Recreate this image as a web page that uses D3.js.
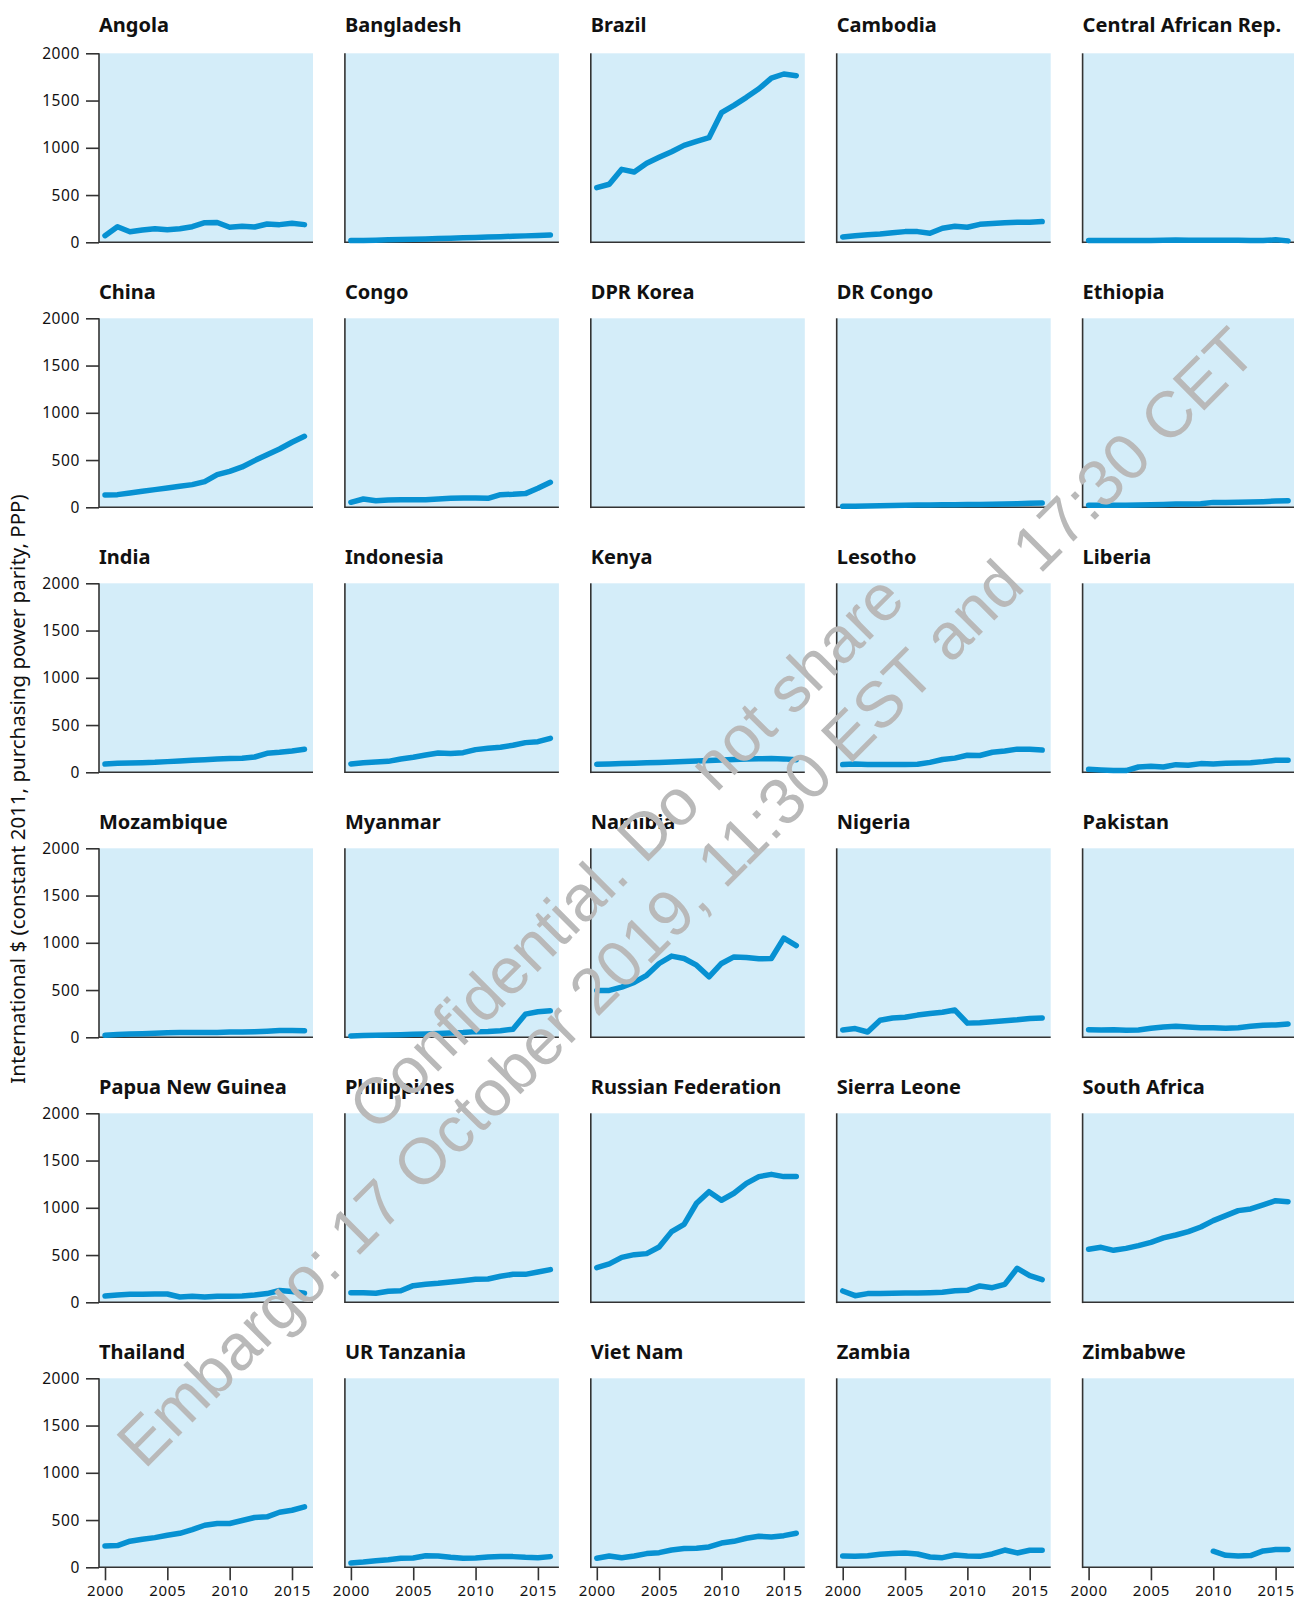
<!DOCTYPE html>
<html><head><meta charset="utf-8">
<script src="https://cdn.jsdelivr.net/npm/d3@7"></script>
<style>body{margin:0;background:#fff}svg{display:block}</style>
</head><body>
<svg id="chart" width="1294" height="1602"></svg>
<script>
const years = [2000,2001,2002,2003,2004,2005,2006,2007,2008,2009,2010,2011,2012,2013,2014,2015,2016];
const countries = ["Angola","Bangladesh","Brazil","Cambodia","Central African Rep.",
  "China","Congo","DPR Korea","DR Congo","Ethiopia",
  "India","Indonesia","Kenya","Lesotho","Liberia",
  "Mozambique","Myanmar","Namibia","Nigeria","Pakistan",
  "Papua New Guinea","Philippines","Russian Federation","Sierra Leone","South Africa",
  "Thailand","UR Tanzania","Viet Nam","Zambia","Zimbabwe"];

const angola     = [70,165,112,130,144,133,144,165,207,210,159,169,162,194,187,201,187];
const bangladesh = [18,20,23,26,29,32,36,40,44,48,52,56,60,64,68,73,78];
const brazil     = [578,614,772,744,836,899,959,1026,1069,1107,1371,1449,1534,1625,1738,1781,1763];
const cambodia   = [56,70,81,88,102,113,113,95,148,169,159,190,198,208,212,212,219];
const centralAfricanRep = [20,20,18,18,20,20,22,24,22,22,22,22,22,18,18,26,15];
const china      = [130,134,152,169,187,205,222,240,272,346,381,427,494,557,617,688,751];
const congo      = [53,88,70,78,81,81,81,88,95,99,99,95,134,138,145,201,265];
const dprKorea   = [null,null,null,null,null,null,null,null,null,null,null,null,null,null,null,null,null];
const drCongo    = [10,12,14,17,20,22,24,25,27,28,29,30,32,34,38,42,46];
const ethiopia   = [22,22,22,22,24,26,30,34,36,38,52,50,54,56,60,66,70];
const india      = [88,95,99,102,106,113,120,127,134,141,145,148,162,201,212,226,243];
const indonesia  = [88,102,109,116,141,159,183,205,198,208,240,254,265,286,314,324,360];
const kenya      = [85,88,92,96,100,105,110,115,120,125,130,135,140,143,145,142,132];
const lesotho    = [82,88,82,82,82,82,85,105,135,150,180,178,212,226,245,243,236];
const liberia    = [32,25,18,18,56,63,56,81,74,92,88,95,99,102,113,127,127];
const mozambique = [22,30,35,38,42,48,52,52,50,50,55,55,60,65,72,72,70];
const myanmar    = [15,18,22,25,28,32,36,40,45,50,60,62,70,85,245,270,280];
const namibia    = [496,496,531,581,656,781,859,834,763,640,781,851,845,831,834,1050,970];
const nigeria    = [78,92,56,180,205,212,235,252,265,288,150,155,165,175,185,200,205];
const pakistan   = [81,78,81,74,78,95,109,116,109,102,102,95,102,116,127,131,141];
const papuaNewGuinea = [67,78,85,85,88,88,56,63,56,63,63,67,78,92,125,115,95];
const philippines = [102,102,95,116,123,176,190,201,215,229,243,247,275,296,296,321,346];
const russia     = [367,406,476,504,515,585,748,825,1048,1171,1080,1154,1259,1330,1354,1330,1330];
const sierraLeone = [120,70,92,92,95,99,99,102,106,123,127,173,155,190,360,282,240];
const southAfrica = [561,582,550,571,600,635,681,712,748,797,864,917,970,988,1030,1075,1065];
const thailand   = [226,230,276,297,314,339,360,399,445,463,463,495,527,534,583,604,640];
const urTanzania = [46,56,70,81,95,99,123,120,106,95,99,109,113,113,106,102,113];
const vietNam    = [95,120,102,120,145,155,183,198,201,215,257,275,307,328,321,335,360];
const zambia     = [120,116,123,138,145,152,141,109,102,130,120,116,141,183,152,180,180];
const zimbabwe   = [null,null,null,null,null,null,null,null,null,null,170,127,120,124,173,188,188];

const series = [angola,bangladesh,brazil,cambodia,centralAfricanRep,
  china,congo,dprKorea,drCongo,ethiopia,
  india,indonesia,kenya,lesotho,liberia,
  mozambique,myanmar,namibia,nigeria,pakistan,
  papuaNewGuinea,philippines,russia,sierraLeone,southAfrica,
  thailand,urTanzania,vietNam,zambia,zimbabwe];

const yTicks = [0,500,1000,1500,2000];
const xTicks = [2000,2005,2010,2015];
const yTitle = "International $ (constant 2011, purchasing power parity, PPP)";
const watermark1 = "Confidential. Do not share";
const watermark2 = "Embargo: 17 October 2019, 11:30 EST and 17:30 CET";

const ncol = 5, nrow = 6;
const colX0 = 99, colStep = 245.9, rowY0 = 53.3, rowStep = 265;
const pw = 214, ph = 189;
const FONT = "'Noto Sans', sans-serif";

const svg = d3.select("#chart");
const x = d3.scaleLinear().domain([2000, 2015]).range([6, 193]);
const y = d3.scaleLinear().domain([0, 2000]).range([ph, 0]);
const line = d3.line().defined(d => d[1] != null).x(d => x(d[0])).y(d => y(d[1]));

countries.forEach((name, i) => {
  const c = i % ncol, r = Math.floor(i / ncol);
  const g = svg.append("g").attr("transform", `translate(${colX0 + c*colStep},${rowY0 + r*rowStep})`);
  g.append("rect").attr("x", 0).attr("y", 0).attr("width", pw).attr("height", ph).attr("fill", "#d4edf9");
  g.append("text").attr("x", 0).attr("y", r === 0 ? -21.5 : -19).text(name)
    .attr("font-family", FONT).attr("font-weight", 700).attr("font-size", 20).attr("fill", "#111");

  if (c === 0) {
    const ya = g.append("g").call(d3.axisLeft(y).tickValues(yTicks).tickSize(13).tickPadding(6).tickFormat(d3.format("d")));
    ya.select(".domain").remove();
    ya.selectAll("line").attr("stroke", "#333").attr("stroke-width", 1.6);
    ya.selectAll("text").attr("font-family", FONT).attr("font-size", 15.5).attr("fill", "#111").attr("letter-spacing", 0.6);
  }
  if (r === nrow - 1) {
    const xa = g.append("g").attr("transform", `translate(0,${ph})`)
      .call(d3.axisBottom(x).tickValues(xTicks).tickSize(13).tickPadding(5).tickFormat(d3.format("d")));
    xa.select(".domain").remove();
    xa.selectAll("line").attr("stroke", "#333").attr("stroke-width", 1.6);
    xa.selectAll("text").attr("font-family", FONT).attr("font-size", 15).attr("fill", "#111").attr("letter-spacing", 0.7);
  }
  g.append("line").attr("x1", 0).attr("x2", 0).attr("y1", 0).attr("y2", ph + 0.8)
    .attr("stroke", "#333").attr("stroke-width", 1.6);
  g.append("line").attr("x1", 0).attr("x2", pw).attr("y1", ph).attr("y2", ph)
    .attr("stroke", "#333").attr("stroke-width", 1.6);

  const pts = years.map((yr, k) => [yr, series[i][k]]);
  g.append("path").datum(pts).attr("d", line).attr("fill", "none")
    .attr("stroke", "#0791d2").attr("stroke-width", 5.5)
    .attr("stroke-linejoin", "round").attr("stroke-linecap", "round");
});

svg.append("text").attr("transform", "translate(25,789) rotate(-90)")
  .attr("text-anchor", "middle").attr("font-family", FONT).attr("font-size", 20.5).attr("fill", "#111")
  .text(yTitle);

const wm = svg.append("g").attr("font-family", "'Liberation Sans', Arial, sans-serif")
  .attr("font-size", 65).attr("fill", "#b9b9b9").attr("text-anchor", "middle")
  .attr("dominant-baseline", "central");
wm.append("text").attr("transform", "translate(626,852) rotate(-45)").text(watermark1);
wm.append("text").attr("transform", "translate(686,897) rotate(-45)").text(watermark2);
</script>
</body></html>
